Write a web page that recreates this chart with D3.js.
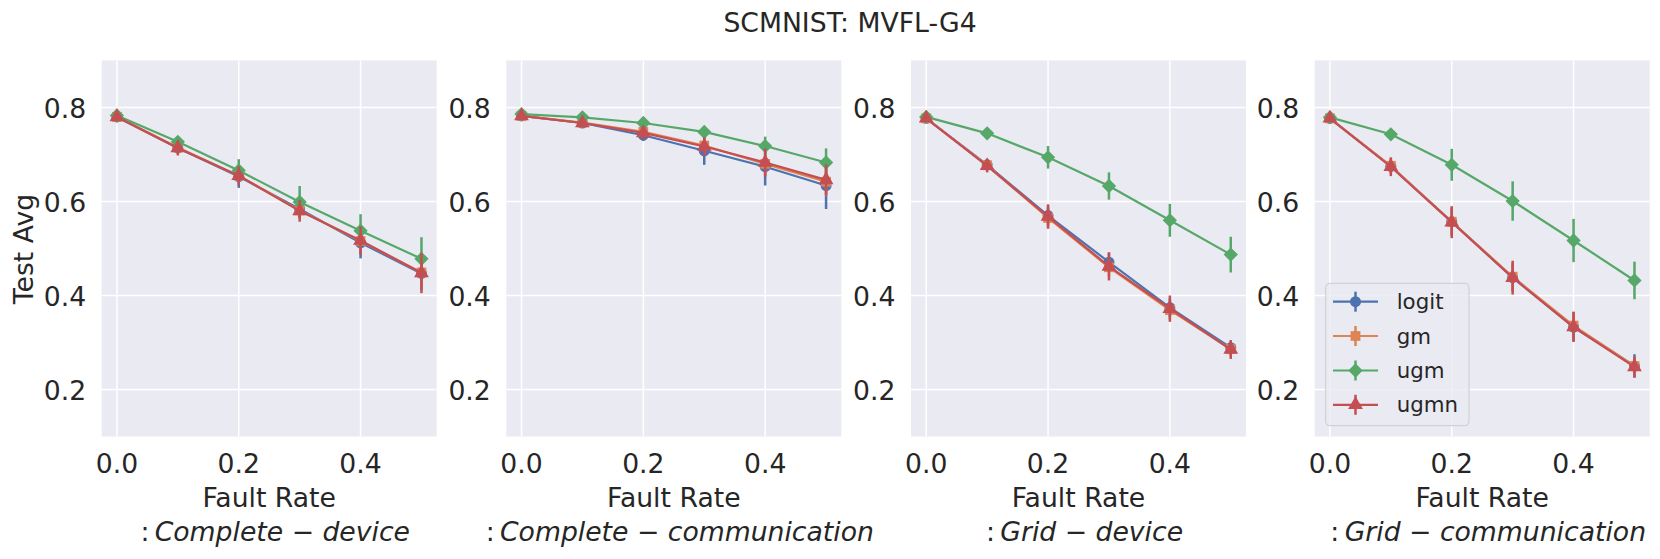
<!DOCTYPE html>
<html>
<head>
<meta charset="utf-8">
<script src="https://cdn.jsdelivr.net/npm/d3@7"></script>
<style>
  body { margin: 0; background: #fff; }
  text { font-family: "DejaVu Sans", sans-serif; fill: #262626; }
</style>
</head>
<body>
<div id="chart"></div>
<script>
// fault rates on the x axis
const faultRates = [0, 0.1, 0.2, 0.3, 0.4, 0.5];
const methods = ["logit", "gm", "ugm", "ugmn"];
const panelNames = ["Complete \u2212 device", "Complete \u2212 communication", "Grid \u2212 device", "Grid \u2212 communication"];
const xTicks = [0, 0.2, 0.4];
const yTicks = [0.2, 0.4, 0.6, 0.8];

// Complete - device
const cdLogit = [0.780, 0.714, 0.653, 0.584, 0.512, 0.447];
const cdGm    = [0.780, 0.715, 0.655, 0.581, 0.516, 0.449];
const cdUgm   = [0.783, 0.727, 0.666, 0.599, 0.538, 0.478];
const cdUgmn  = [0.780, 0.714, 0.655, 0.580, 0.517, 0.448];
const cdLogitErr = [0.004, 0.012, 0.024, 0.020, 0.033, 0.035];
const cdGmErr    = [0.004, 0.010, 0.015, 0.015, 0.025, 0.030];
const cdUgmErr   = [0.004, 0.012, 0.024, 0.034, 0.035, 0.046];
const cdUgmnErr  = [0.004, 0.016, 0.020, 0.023, 0.030, 0.043];

// Complete - communication
const ccLogit = [0.782, 0.767, 0.741, 0.708, 0.674, 0.634];
const ccGm    = [0.782, 0.768, 0.748, 0.719, 0.680, 0.642];
const ccUgm   = [0.786, 0.779, 0.767, 0.748, 0.718, 0.683];
const ccUgmn  = [0.782, 0.767, 0.746, 0.717, 0.683, 0.646];
const ccLogitErr = [0.003, 0.005, 0.012, 0.030, 0.040, 0.050];
const ccGmErr    = [0.003, 0.005, 0.010, 0.020, 0.025, 0.030];
const ccUgmErr   = [0.003, 0.005, 0.008, 0.012, 0.020, 0.030];
const ccUgmnErr  = [0.003, 0.005, 0.014, 0.020, 0.030, 0.033];

// Grid - device
const gdLogit = [0.777, 0.678, 0.570, 0.471, 0.374, 0.289];
const gdGm    = [0.777, 0.677, 0.565, 0.460, 0.369, 0.286];
const gdUgm   = [0.780, 0.745, 0.694, 0.633, 0.560, 0.487];
const gdUgmn  = [0.777, 0.676, 0.568, 0.462, 0.372, 0.285];
const gdLogitErr = [0.003, 0.010, 0.020, 0.020, 0.020, 0.015];
const gdGmErr    = [0.003, 0.010, 0.020, 0.020, 0.020, 0.015];
const gdUgmErr   = [0.004, 0.008, 0.024, 0.029, 0.035, 0.038];
const gdUgmnErr  = [0.003, 0.014, 0.026, 0.030, 0.028, 0.020];

// Grid - communication
const gcLogit = [0.777, 0.675, 0.557, 0.438, 0.333, 0.250];
const gcGm    = [0.777, 0.676, 0.557, 0.440, 0.336, 0.250];
const gcUgm   = [0.779, 0.743, 0.678, 0.601, 0.517, 0.432];
const gcUgmn  = [0.777, 0.674, 0.556, 0.438, 0.333, 0.248];
const gcLogitErr = [0.003, 0.015, 0.030, 0.030, 0.030, 0.025];
const gcGmErr    = [0.003, 0.015, 0.030, 0.030, 0.030, 0.020];
const gcUgmErr   = [0.004, 0.010, 0.034, 0.042, 0.046, 0.040];
const gcUgmnErr  = [0.003, 0.020, 0.034, 0.036, 0.032, 0.022];

const panelValues = [
  [cdLogit, cdGm, cdUgm, cdUgmn],
  [ccLogit, ccGm, ccUgm, ccUgmn],
  [gdLogit, gdGm, gdUgm, gdUgmn],
  [gcLogit, gcGm, gcUgm, gcUgmn]
];
const panelErrors = [
  [cdLogitErr, cdGmErr, cdUgmErr, cdUgmnErr],
  [ccLogitErr, ccGmErr, ccUgmErr, ccUgmnErr],
  [gdLogitErr, gdGmErr, gdUgmErr, gdUgmnErr],
  [gcLogitErr, gcGmErr, gcUgmErr, gcUgmnErr]
];

const colors = ["#4C72B0", "#DD8452", "#55A868", "#C44E52"];
const symbols = [d3.symbolCircle, d3.symbolSquare, d3.symbolDiamond2, d3.symbolTriangle];
const symbolSizes = [95, 95, 130, 95];

const W = 1660, H = 559;
const fs = 26.67;
const panelLefts = [101.7, 506.3, 911, 1314.7];
const panelW = 335, plotTop = 60.5, plotBottom = 436.5;

const svg = d3.select("#chart").append("svg")
  .attr("width", W).attr("height", H);

// figure title
svg.append("text")
  .attr("x", 850).attr("y", 32.3)
  .attr("text-anchor", "middle")
  .style("font-size", fs + "px")
  .text("SCMNIST: MVFL-G4");

const y = d3.scaleLinear().domain([0.1, 0.9]).range([plotBottom, plotTop]);

panelLefts.forEach((left, p) => {
  const x = d3.scaleLinear().domain([-0.025, 0.525]).range([left, left + panelW]);
  const g = svg.append("g");

  g.append("rect")
    .attr("x", left).attr("y", plotTop)
    .attr("width", panelW).attr("height", plotBottom - plotTop)
    .attr("fill", "#EAEAF2");

  // grid
  g.selectAll(".vgrid").data(xTicks).enter().append("line")
    .attr("x1", d => x(d)).attr("x2", d => x(d))
    .attr("y1", plotTop).attr("y2", plotBottom)
    .attr("stroke", "#fff").attr("stroke-width", 1.5);
  g.selectAll(".hgrid").data(yTicks).enter().append("line")
    .attr("x1", left).attr("x2", left + panelW)
    .attr("y1", d => y(d)).attr("y2", d => y(d))
    .attr("stroke", "#fff").attr("stroke-width", 1.5);

  // tick labels
  g.selectAll(".xt").data(xTicks).enter().append("text")
    .attr("x", d => x(d)).attr("y", 473)
    .attr("text-anchor", "middle")
    .style("font-size", fs + "px")
    .text(d => d.toFixed(1));
  g.selectAll(".yt").data(yTicks).enter().append("text")
    .attr("x", left - 15.5).attr("y", d => y(d) + 10)
    .attr("text-anchor", "end")
    .style("font-size", fs + "px")
    .text(d => d.toFixed(1));

  // axis label, two lines
  const cx = left + panelW / 2;
  g.append("text")
    .attr("x", cx).attr("y", 506.7)
    .attr("text-anchor", "middle")
    .style("font-size", fs + "px")
    .text("Fault Rate");
  const sub = g.append("text")
    .attr("x", cx + 6).attr("y", 541)
    .attr("text-anchor", "middle")
    .style("font-size", fs + "px");
  sub.append("tspan").text(":\u2009");
  sub.append("tspan").style("font-style", "italic").text(panelNames[p]);

  // series
  methods.forEach((m, i) => {
    const vals = panelValues[p][i];
    const errs = panelErrors[p][i];
    const pts = faultRates.map((f, k) => ({f, v: vals[k], e: errs[k]}));
    const sg = g.append("g");

    sg.selectAll("line").data(pts).enter().append("line")
      .attr("x1", d => x(d.f)).attr("x2", d => x(d.f))
      .attr("y1", d => y(d.v - d.e)).attr("y2", d => y(d.v + d.e))
      .attr("stroke", colors[i]).attr("stroke-width", 2.5);

    sg.append("path")
      .datum(pts)
      .attr("fill", "none")
      .attr("stroke", colors[i])
      .attr("stroke-width", 2.2)
      .attr("d", d3.line().x(d => x(d.f)).y(d => y(d.v)));

    sg.selectAll(".mk").data(pts).enter().append("path")
      .attr("transform", d => `translate(${x(d.f)},${y(d.v)})`)
      .attr("d", d3.symbol().type(symbols[i]).size(symbolSizes[i]))
      .attr("fill", colors[i]);
  });
});

// y label
svg.append("text")
  .attr("transform", "translate(33,249) rotate(-90)")
  .attr("text-anchor", "middle")
  .style("font-size", fs + "px")
  .text("Test Avg");

// legend in last panel
const lg = svg.append("g");
lg.append("rect")
  .attr("x", 1325.7).attr("y", 283.3)
  .attr("width", 143.3).attr("height", 142.4)
  .attr("rx", 4)
  .attr("fill", "#EAEAF2").attr("fill-opacity", 0.8)
  .attr("stroke", "#cccccc").attr("stroke-width", 1);
const legRows = [301.7, 336, 370.5, 404.8];
methods.forEach((m, i) => {
  const ly = legRows[i];
  lg.append("line")
    .attr("x1", 1333).attr("x2", 1378).attr("y1", ly).attr("y2", ly)
    .attr("stroke", colors[i]).attr("stroke-width", 2.2);
  lg.append("line")
    .attr("x1", 1355.5).attr("x2", 1355.5).attr("y1", ly - 10).attr("y2", ly + 10)
    .attr("stroke", colors[i]).attr("stroke-width", 2.5);
  lg.append("path")
    .attr("transform", `translate(1355.5,${ly})`)
    .attr("d", d3.symbol().type(symbols[i]).size(symbolSizes[i]))
    .attr("fill", colors[i]);
  lg.append("text")
    .attr("x", 1396.7).attr("y", ly + 7.5)
    .style("font-size", "21.33px")
    .text(m);
});
</script>
</body>
</html>
